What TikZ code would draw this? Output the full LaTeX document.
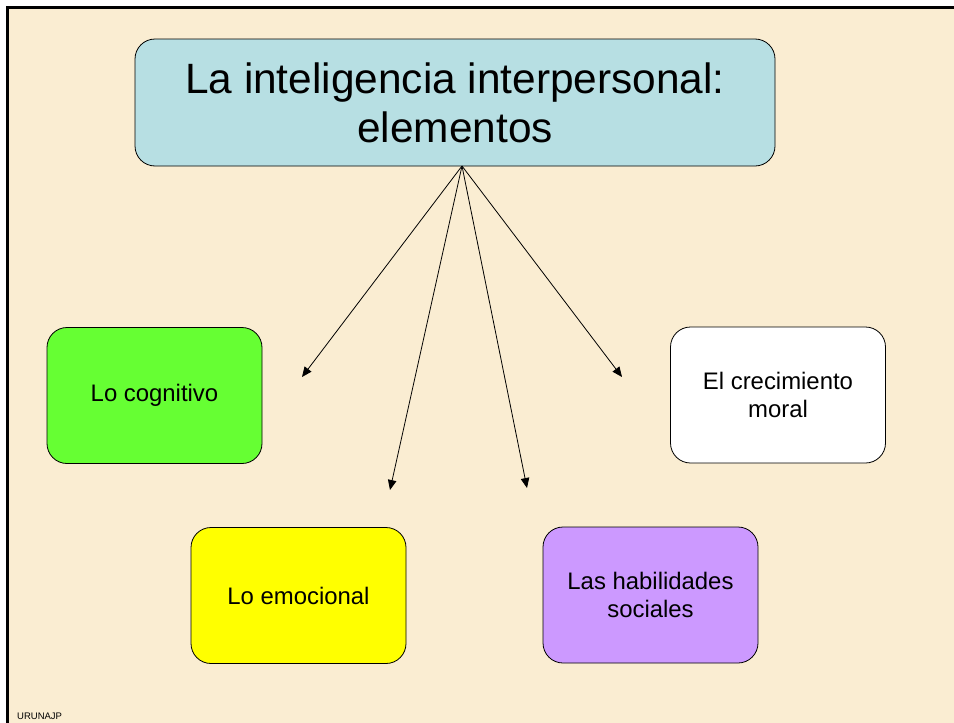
\documentclass[tikz,border=0pt]{standalone}
\usepackage{fontspec}
\setmainfont{Liberation Sans}
\usetikzlibrary{arrows.meta}
\usetikzlibrary{positioning}

\definecolor{parchment}{RGB}{250,237,210}
\definecolor{titleblue}{RGB}{183,223,227}
\definecolor{cogngreen}{RGB}{102,255,51}
\definecolor{emoyellow}{RGB}{255,255,0}
\definecolor{socviolet}{RGB}{204,153,255}

\tikzset{
  elembox/.style={draw=black, line width=0.8pt, rounded corners=20pt,
    minimum width=215pt, minimum height=136pt, align=center,
    font=\fontsize{23.9}{28}\selectfont},
  titlebox/.style={elembox, minimum width=640pt, minimum height=127pt,
    font=\fontsize{42.4}{49}\selectfont},
  elemarrow/.style={line width=0.8pt, -{Triangle[length=10pt,width=8.5pt]}}
}

\begin{document}
\begin{tikzpicture}[x=1pt,y=-1pt]
\useasboundingbox (0,0) rectangle (954,723);
\fill[white] (0,0) rectangle (954,723);
\fill[parchment] (7.5,7.5) rectangle (954,723);
\draw[line width=3pt] (7.5,723) -- (7.5,7.5) -- (954,7.5);

\node[titlebox, fill=titleblue] (title) at (455,102.5) {La inteligencia interpersonal:\\elementos};

\node[elembox, fill=cogngreen] (cogn) at (154.5,395.5) {Lo cognitivo};
\node[elembox, fill=white] (moral) at (778,395) {El crecimiento\\moral};
\node[elembox, fill=emoyellow] (emoc) at (298.5,595.5) {Lo emocional};
\node[elembox, fill=socviolet] (soc) at (650.5,595) {Las habilidades\\sociales};

\coordinate (hub) at (462,166);
\coordinate (tocogn) at (302,377);
\coordinate (toemoc) at (390,490);
\coordinate (tosoc) at (527,488);
\coordinate (tomoral) at (622,377);

\draw[elemarrow] (hub) -- (tocogn);
\draw[elemarrow] (hub) -- (toemoc);
\draw[elemarrow] (hub) -- (tosoc);
\draw[elemarrow] (hub) -- (tomoral);

\node[anchor=base west, font=\fontsize{9.5}{11}\selectfont, inner sep=0pt] (credit) at (17,719) {URUNAJP};
\end{tikzpicture}
\end{document}
